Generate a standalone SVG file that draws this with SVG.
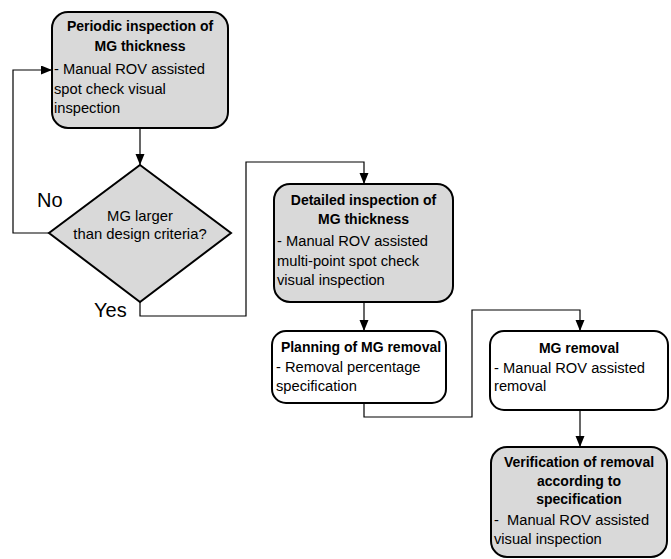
<svg xmlns="http://www.w3.org/2000/svg" width="671" height="559" viewBox="0 0 671 559">
<style>
.node{stroke:#000;stroke-width:2}
.gray{fill:#d9d9d9}
.white{fill:#fff}
.t{font-family:"Liberation Sans",Arial,sans-serif;font-size:14.7px;fill:#000}
.b{font-weight:bold;font-size:14px;text-anchor:middle}
.d{font-size:14.8px;text-anchor:middle}
.lbl{font-family:"Liberation Sans",Arial,sans-serif;font-size:20px;fill:#000}
.c{fill:none;stroke:#000;stroke-width:1.2}
</style>
<defs>
<marker id="arr" markerUnits="userSpaceOnUse" markerWidth="12" markerHeight="10" refX="11" refY="4.5" orient="auto">
<path d="M0,0 L11,4.5 L0,9 z" fill="#000"/>
</marker>
</defs>
<rect width="671" height="559" fill="#fff"/>
<g id="connectors">
<path class="c" d="M140,128 V165" marker-end="url(#arr)"/>
<path class="c" d="M49,233 H13 V70 H52" marker-end="url(#arr)"/>
<path class="c" d="M140,302 V316 H246 V162 H364 V184" marker-end="url(#arr)"/>
<path class="c" d="M364,302 V331" marker-end="url(#arr)"/>
<path class="c" d="M364,403 V417 H472 V310 H580 V331" marker-end="url(#arr)"/>
<path class="c" d="M580,410 V447" marker-end="url(#arr)"/>
<text class="lbl" x="37" y="207">No</text>
<text class="lbl" x="94" y="317">Yes</text>
</g>
<g id="periodic">
<rect class="node gray" x="52" y="12" width="176" height="116" rx="16"/>
<text class="t b" x="140" y="31">Periodic inspection of</text>
<text class="t b" x="140" y="51">MG thickness</text>
<text class="t" x="54" y="74">- Manual ROV assisted</text>
<text class="t" x="54" y="94">spot check visual</text>
<text class="t" x="54" y="113">inspection</text>
</g>
<g id="decision">
<polygon class="node gray" points="140,165 231,233 140,302 49,233"/>
<text class="t d" x="140" y="221">MG larger</text>
<text class="t d" x="140" y="239">than design criteria?</text>
</g>
<g id="detailed">
<rect class="node gray" x="274" y="184" width="179" height="118" rx="16"/>
<text class="t b" x="363.5" y="205">Detailed inspection of</text>
<text class="t b" x="363.5" y="224">MG thickness</text>
<text class="t" x="277" y="246">- Manual ROV assisted</text>
<text class="t" x="277" y="266">multi-point spot check</text>
<text class="t" x="277" y="285">visual inspection</text>
</g>
<g id="planning">
<rect class="node white" x="272" y="331" width="174" height="72" rx="14"/>
<text class="t b" x="361" y="352">Planning of MG removal</text>
<text class="t" x="276" y="372">- Removal percentage</text>
<text class="t" x="276" y="391">specification</text>
</g>
<g id="removal">
<rect class="node white" x="490" y="331" width="178" height="79" rx="14"/>
<text class="t b" x="579" y="353">MG removal</text>
<text class="t" x="494" y="373">- Manual ROV assisted</text>
<text class="t" x="494" y="391">removal</text>
</g>
<g id="verification">
<rect class="node gray" x="491" y="447" width="176" height="110" rx="16"/>
<text class="t b" x="579" y="467">Verification of removal</text>
<text class="t b" x="579" y="486">according to</text>
<text class="t b" x="579" y="504">specification</text>
<text class="t" x="494" y="525">-&#160; Manual ROV assisted</text>
<text class="t" x="494" y="544">visual inspection</text>
</g>
</svg>
